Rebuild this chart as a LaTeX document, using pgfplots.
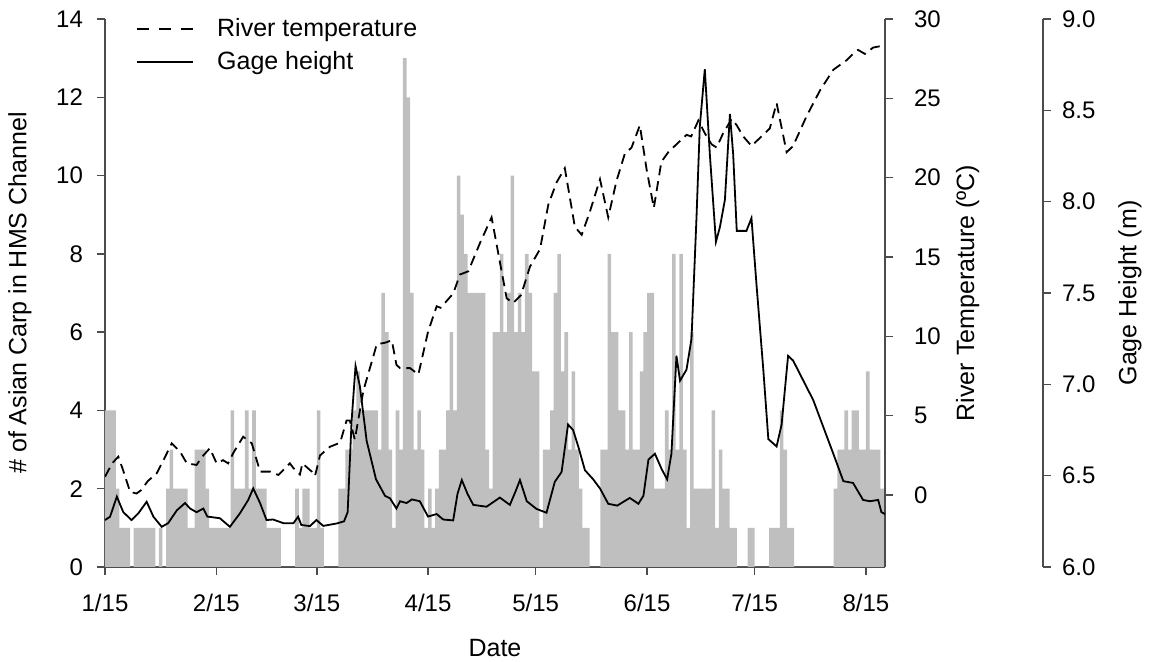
\documentclass[border=0pt]{standalone}
\usepackage{fontspec}
\setmainfont{Liberation Sans}
\usepackage{pgfplots}
\pgfplotsset{compat=1.18}

\begin{document}
\begin{tikzpicture}
\useasboundingbox (-52.5pt,-47.5pt) rectangle (524pt,283.5pt);
\pgfplotsset{
  every axis/.append style={
    scale only axis, width=390pt, height=274pt,
    at={(0,0)}, anchor=south west,
    xmin=0, xmax=217.3,
    axis line style={draw=black!70, line width=0.75pt},
    tick style={draw=black!70, line width=0.75pt},
    tick align=outside, major tick length=4pt,
    tick label style={font=\fontsize{12}{14}\selectfont},
    label style={font=\fontsize{12.5}{15}\selectfont},
    /pgf/number format/assume math mode=true,
  },
}

% number of carp per day (bars)
\begin{axis}[
  axis y line*=left, axis x line*=bottom,
  ymin=0, ymax=14, ytick={0,2,...,14},
  xtick={0,31,59,90,120,151,181,212},
  xticklabels={1/15,2/15,3/15,4/15,5/15,6/15,7/15,8/15},
  xticklabel style={yshift=-6pt},
  yticklabel style={xshift=-3.5pt},
  xlabel={Date},
  ylabel={\# of Asian Carp in HMS Channel},
  xlabel style={at={(axis description cs:0.5,-0.148)}, anchor=center},
  ylabel style={at={(axis description cs:-0.109,0.5)}, anchor=center},
  legend style={at={(axis description cs:0.032,1.017)}, anchor=north west,
    draw=none, fill=none, font=\fontsize{12.5}{15}\selectfont, row sep=2pt},
  legend cell align=left,
  legend image code/.code={\draw[#1] (0pt,0pt) -- (28pt,0pt); \path (37.5pt,0pt);},
]
\addplot[ybar interval, fill=black!25, draw=none, forget plot] coordinates {
(0,4)(1,4)(2,4)(3,2)(4,1)(5,1)(6,1)(7,0)(8,1)(9,1)
(10,1)(11,1)(12,1)(13,1)(14,0)(15,1)(16,0)(17,2)(18,3)(19,2)
(20,2)(21,2)(22,2)(23,1)(24,1)(25,3)(26,3)(27,3)(28,2)(29,1)
(30,1)(31,1)(32,1)(33,1)(34,1)(35,4)(36,2)(37,2)(38,2)(39,4)
(40,2)(41,4)(42,2)(43,2)(44,2)(45,1)(46,1)(47,1)(48,1)(49,0)
(50,0)(51,0)(52,0)(53,2)(54,1)(55,2)(56,2)(57,1)(58,1)(59,4)
(60,1)(61,0)(62,0)(63,0)(64,0)(65,2)(66,2)(67,3)(68,3)(69,4)
(70,5)(71,4)(72,4)(73,4)(74,4)(75,4)(76,3)(77,7)(78,6)(79,3)
(80,1)(81,4)(82,3)(83,13)(84,12)(85,7)(86,3)(87,4)(88,3)(89,1)
(90,2)(91,1)(92,2)(93,3)(94,3)(95,4)(96,6)(97,4)(98,10)(99,9)
(100,8)(101,7)(102,7)(103,7)(104,7)(105,7)(106,3)(107,2)(108,6)(109,6)
(110,8)(111,6)(112,7)(113,10)(114,6)(115,7)(116,6)(117,8)(118,7)(119,5)
(120,5)(121,1)(122,3)(123,3)(124,4)(125,7)(126,8)(127,5)(128,6)(129,3)
(130,5)(131,3)(132,2)(133,1)(134,1)(135,0)(136,0)(137,0)(138,3)(139,3)
(140,8)(141,6)(142,6)(143,4)(144,4)(145,3)(146,6)(147,3)(148,3)(149,5)
(150,6)(151,7)(152,7)(153,2)(154,2)(155,2)(156,4)(157,3)(158,8)(159,3)
(160,8)(161,3)(162,1)(163,6)(164,2)(165,2)(166,2)(167,2)(168,2)(169,4)
(170,1)(171,3)(172,2)(173,2)(174,1)(175,1)(176,0)(177,0)(178,0)(179,1)
(180,1)(181,0)(182,0)(183,0)(184,0)(185,1)(186,1)(187,1)(188,4)(189,3)
(190,1)(191,1)(192,0)(193,0)(194,0)(195,0)(196,0)(197,0)(198,0)(199,0)
(200,0)(201,0)(202,0)(203,2)(204,3)(205,3)(206,4)(207,3)(208,4)(209,4)
(210,3)(211,3)(212,5)(213,3)(214,3)(215,3)(216,2)(217,2)(218,2)
};
\addlegendimage{black, line width=0.9pt, dash pattern=on 6pt off 5pt}
\addlegendentry{River temperature}
\addlegendimage{black, line width=0.9pt}
\addlegendentry{Gage height}
\end{axis}

% river temperature
\begin{axis}[
  axis y line*=right, axis x line=none,
  ymin=-4.53, ymax=30, ytick={0,5,...,30},
  yticklabel style={xshift=7pt},
  ylabel={River Temperature (ºC)},
  ylabel style={at={(axis description cs:1.106,0.5)}, anchor=center},
]
\addplot[black, line width=0.9pt, dash pattern=on 5pt off 3pt] coordinates {
(0,1.16)(2,2.0)(3.7,2.42)(5,1.6)(7,0.2)(8.8,0.1)(10,0.3)(12,0.9)(14.4,1.37)
(16.5,2.3)(18.6,3.26)(20.9,2.74)(22.8,2.0)(25.5,1.9)(27,2.4)(29.2,2.95)
(31.1,2.0)(32.9,2.2)(34.3,2.0)(35.7,2.64)(38.5,3.68)(40.9,3.26)(43.2,1.48)
(46,1.48)(48.3,1.27)(51.5,2.0)(52.5,1.7)(54.3,1.3)(55,2.0)(57.6,1.48)
(58.5,1.2)(59.9,2.5)(62.7,3.05)(65.5,3.3)(67.3,4.7)(68.2,4.7)(69.6,3.5)
(72,6.6)(74.7,8.7)(75.7,9.5)(78,9.6)(79.9,9.75)(81.2,8.2)(82.2,8.0)(85,8.0)
(87.3,7.6)(90,10.3)(92.4,11.9)(93.5,11.8)(97,12.7)(98.9,13.9)(101.2,14.1)
(104.5,15.9)(107.7,17.5)(110,14.7)(111.9,12.4)(113.7,12.1)(115.9,12.6)
(118.4,14.4)(121.2,15.5)(123.5,18.3)(125.8,19.7)(128.1,20.6)(130.9,16.9)
(132.8,16.4)(135,17.8)(137.9,19.9)(140.2,17.5)(142.5,19.8)(144.8,21.5)
(146.7,21.9)(149,23.3)(150.9,20.5)(152.9,18.1)(155,21.0)(156.9,21.6)
(159.2,22.1)(162,22.7)(163.3,22.6)(165.3,23.6)(167.1,22.8)(169,22.1)
(170.4,21.9)(172.2,22.8)(174.6,23.7)(176,23.3)(177.8,22.6)(180.1,22.0)
(182.9,22.6)(185.2,23.1)(187.1,24.7)(189.9,21.6)(191.7,22.0)(195.5,23.9)
(199.2,25.5)(202.9,26.8)(206.6,27.4)(208.4,27.8)(209.8,28.05)(211.7,27.8)
(214,28.2)(216.3,28.3)(217.3,28.3)
};
\end{axis}

% gage height
\begin{axis}[hide axis, ymin=6, ymax=9]
\addplot[black, line width=0.9pt] coordinates {
(0,6.257)(1.4,6.275)(3.3,6.385)(5.1,6.30)(7.4,6.257)(9.3,6.294)(11.6,6.357)
(13.5,6.275)(15.8,6.22)(17.6,6.24)(20,6.31)(22.3,6.35)(23.7,6.32)(25.5,6.30)
(27.4,6.32)(28.5,6.276)(32,6.267)(34.8,6.22)(37.6,6.294)(39.9,6.367)
(41.3,6.43)(43.2,6.35)(45,6.257)(46.8,6.26)(49.7,6.24)(52.5,6.24)
(53.8,6.275)(54.7,6.23)(57.1,6.224)(58.9,6.257)(60.8,6.225)(64.5,6.238)
(66.6,6.25)(67.6,6.30)(68.7,6.80)(69.8,7.10)(71,6.99)(72.9,6.69)(75.5,6.48)
(78,6.39)(79.4,6.376)(81.2,6.32)(82.2,6.36)(84,6.35)(85.5,6.37)(87.7,6.36)
(90,6.276)(92.4,6.29)(94.2,6.26)(97,6.255)(98.2,6.40)(99.4,6.476)(101,6.40)
(102.6,6.34)(106.3,6.33)(110,6.38)(112.8,6.34)(114.5,6.42)(115.6,6.476)
(117.5,6.36)(120.2,6.318)(123,6.297)(125.3,6.466)(127.2,6.52)(129,6.78)
(130.4,6.75)(131.9,6.656)(133.7,6.53)(136,6.48)(137.9,6.43)(140.2,6.346)
(142.7,6.336)(146.2,6.378)(148.6,6.346)(150,6.39)(151.4,6.588)(153.2,6.62)
(155.1,6.535)(156.6,6.48)(157.8,6.62)(159.2,7.156)(160.2,7.02)(162,7.08)
(163.4,7.25)(164.8,7.92)(165.7,8.41)(167.1,8.725)(168.5,8.26)(170.2,7.78)
(171.3,7.86)(172.7,8.01)(174.1,8.48)(175,8.26)(176,7.84)(178.7,7.84)
(180.1,7.91)(181.5,7.546)(183.4,7.08)(184.8,6.70)(187.1,6.66)(188.5,6.78)
(190.3,7.156)(191.7,7.13)(197.3,6.914)(202.9,6.62)(205.7,6.47)(208.4,6.46)
(211.2,6.367)(213.1,6.36)(215.4,6.367)(216.3,6.30)(217.3,6.29)
};
\end{axis}

% offset gage height scale
\begin{axis}[
  at={(79pt,0)},
  hide x axis, axis y line*=right,
  ymin=6, ymax=9, ytick={6,6.5,...,9},
  yticklabel style={xshift=2pt, /pgf/number format/.cd, fixed, fixed zerofill, precision=1},
  ylabel={Gage Height (m)},
  ylabel style={at={(axis description cs:1.1115,0.5)}, anchor=center},
]
\end{axis}
\end{tikzpicture}
\end{document}
